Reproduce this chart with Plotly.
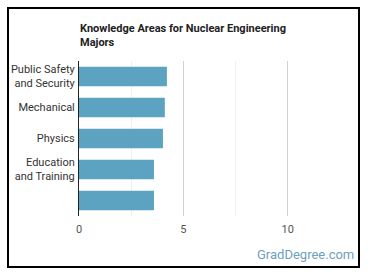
import plotly.graph_objects as go

categories = ["Public Safety<br>and Security", "Mechanical", "Physics", "Education<br>and Training", ""]
values = [4.21, 4.11, 4.02, 3.59, 3.59]
x_ticks = [0, 5, 10]

W, H = 370, 278
L, R, T, B = 79, 30, 61, 62
pw, ph = W - L - R, H - T - B

def px(x):
    return (x - L) / pw

def py(y):
    return (H - B - y) / ph

positions = list(range(len(categories)))

fig = go.Figure(go.Bar(
    x=values, y=positions, orientation="h",
    marker=dict(color="#5ca3c1", line=dict(width=0)),
    hoverinfo="skip",
))

fig.update_layout(
    width=W, height=H,
    margin=dict(l=L, r=R, t=T, b=B, autoexpand=False),
    paper_bgcolor="white", plot_bgcolor="white",
    bargap=0.37,
    showlegend=False,
    font=dict(family="Roboto", color="#333"),
    xaxis=dict(
        range=[0, 12.5], tickvals=x_ticks, ticktext=[str(v) for v in x_ticks],
        showgrid=True, gridcolor="#d0d0d0", gridwidth=1,
        minor=dict(dtick=2.5, tick0=0, showgrid=True, gridcolor="#f0f0f0", gridwidth=1),
        zeroline=False, showline=False, ticks="",
        tickfont=dict(size=11, color="#555"), ticklabelstandoff=5,
        fixedrange=True, automargin=False,
    ),
    yaxis=dict(
        tickvals=positions, ticktext=categories,
        autorange=False, range=[len(categories) - 0.5, -0.5],
        showgrid=False, zeroline=False,
        showline=True, linecolor="#222", linewidth=1,
        ticks="", tickfont=dict(size=11, color="#333"), ticklabelstandoff=1,
        fixedrange=True, automargin=False,
    ),
    annotations=[
        dict(text="<b>Knowledge Areas for Nuclear Engineering<br>Majors</b>",
             xref="paper", yref="paper", x=px(78), y=py(20), xanchor="left", yanchor="top",
             align="left", showarrow=False, font=dict(size=11, color="#222", family="Roboto")),
        dict(text="GradDegree.com", xref="paper", yref="paper",
             x=px(356), y=py(255), xanchor="right", yanchor="middle",
             showarrow=False, font=dict(size=13, color="#6e9fc0", family="Roboto")),
    ],
    shapes=[
        dict(type="rect", xref="paper", yref="paper",
             x0=px(8), x1=px(359), y0=py(267), y1=py(8),
             line=dict(color="black", width=2), fillcolor="rgba(0,0,0,0)", layer="above"),
    ],
)

fig.write_html("out.html", config={"displayModeBar": False})
